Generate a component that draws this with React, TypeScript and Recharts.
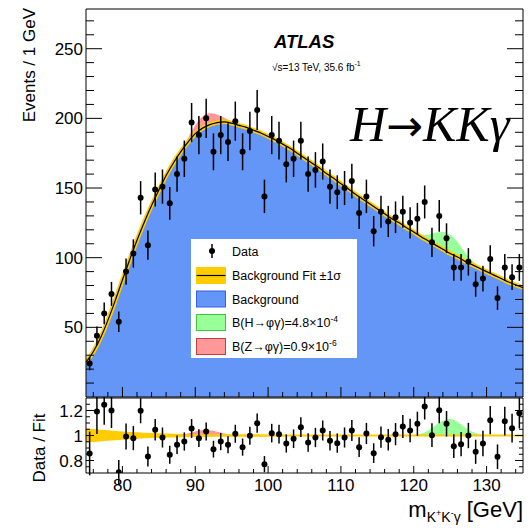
import { ComposedChart, Area, Line, Scatter, ErrorBar, XAxis, YAxis } from "recharts";

const FONT = "'Liberation Sans', Arial, Helvetica, sans-serif";

// 1 GeV bins of m(K+K-γ)
const massBins = [
  75.5, 76.5, 77.5, 78.5, 79.5, 80.5, 81.5, 82.5, 83.5, 84.5,
  85.5, 86.5, 87.5, 88.5, 89.5, 90.5, 91.5, 92.5, 93.5, 94.5,
  95.5, 96.5, 97.5, 98.5, 99.5, 100.5, 101.5, 102.5, 103.5, 104.5,
  105.5, 106.5, 107.5, 108.5, 109.5, 110.5, 111.5, 112.5, 113.5, 114.5,
  115.5, 116.5, 117.5, 118.5, 119.5, 120.5, 121.5, 122.5, 123.5, 124.5,
  125.5, 126.5, 127.5, 128.5, 129.5, 130.5, 131.5, 132.5, 133.5, 134.5,
];

const events = [
  24, 44, 60, 74, 54, 90, 103, 143, 109, 149,
  151, 139, 160, 171, 197, 188, 200, 176, 188, 183,
  198, 176, 191, 206, 144, 188, 184, 167, 171, 184,
  160, 163, 169, 151, 147, 150, 155, 132, 144, 119,
  133, 126, 129, 133, 125, 128, 140, 111, 130, 114,
  93, 93, 97, 81, 85, 99, 71, 93, 86, 93,
];

const dataOverFit = [
  0.856, 1.192, 1.246, 1.2, 0.707, 0.992, 0.979, 1.198, 0.832, 1.046,
  0.984, 0.846, 0.926, 0.952, 1.056, 0.979, 1.032, 0.891, 0.952, 0.926,
  1.014, 0.907, 0.998, 1.099, 0.771, 1.019, 1.011, 0.936, 0.974, 1.067,
  0.944, 0.984, 1.04, 0.958, 0.939, 0.984, 1.04, 0.907, 1.016, 0.859,
  0.987, 0.966, 1.011, 1.072, 1.04, 1.094, 1.232, 1.003, 1.203, 1.094,
  0.915, 0.931, 1.0, 0.87, 0.936, 1.123, 0.83, 1.115, 1.059, 1.179,
];

// background-only fit, sampled every GeV
const fitMass = [
  75, 76, 77, 78, 79, 80, 81, 82, 83, 84, 85, 86, 87, 88, 89, 90,
  91, 92, 93, 94, 95, 96, 97, 98, 99, 100, 101, 102, 103, 104, 105,
  106, 107, 108, 109, 110, 111, 112, 113, 114, 115, 116, 117, 118, 119, 120,
  121, 122, 123, 124, 125, 126, 127, 128, 129, 130, 131, 132, 133, 134, 135,
];
const fitEvents = [
  25, 32.5, 42.5, 55, 69, 84, 98.5, 112.5, 125.5, 137.5, 148.5, 159, 168, 176, 183, 189,
  193, 195.5, 197, 197.5, 196.5, 195, 193.5, 191.5, 189.5, 187, 184.5, 181.5, 178.5, 175, 171.5,
  168, 164.5, 160.5, 157, 153, 149.5, 145.5, 142, 138.5, 135, 131.5, 128, 125, 121.5, 118.5,
  115, 112, 109, 106, 103, 100.5, 97.5, 95, 92.5, 90, 87.5, 85, 82.5, 80.5, 78.5,
];

// relative ±1σ of the fit
const bandMass = [75, 76, 77, 78, 79, 80, 82, 84, 86, 88, 90, 95, 100, 110, 120, 130, 135];
const bandRelErr = [0.057, 0.052, 0.047, 0.042, 0.037, 0.033, 0.026, 0.02, 0.016, 0.013, 0.011, 0.01, 0.009, 0.008, 0.008, 0.008, 0.009];

// signal shapes on top of the background (events)
const zMass = [87, 88, 89, 90, 91, 92, 93, 94, 95, 96, 97];
const zSignal = [0, 0.8, 2.8, 6, 8.4, 8.2, 5.8, 3, 1.2, 0.3, 0];
const hMass = [119, 120, 121, 122, 123, 124, 125, 126, 127, 128, 129, 130, 131];
const hSignal = [0, 0.4, 1.5, 4.5, 9, 12.5, 13.5, 11, 6.5, 3, 1, 0.3, 0];

const xTicks = [76, 78, 80, 82, 84, 86, 88, 90, 92, 94, 96, 98, 100, 102, 104, 106, 108, 110, 112, 114, 116, 118, 120, 122, 124, 126, 128, 130, 132, 134];
const xMajors = [80, 90, 100, 110, 120, 130];
const yTicks = [10, 20, 30, 40, 50, 60, 70, 80, 90, 100, 110, 120, 130, 140, 150, 160, 170, 180, 190, 200, 210, 220, 230, 240, 250, 260, 270];
const yMajors = [50, 100, 150, 200, 250];
const rTicks = [0.75, 0.8, 0.85, 0.9, 0.95, 1, 1.05, 1.1, 1.15, 1.2, 1.25];
const rMajors = [0.8, 1, 1.2];

const BLUE = "#6496f7";
const YELLOW = "#ffcc00";
const GREEN = "#99ff99";
const RED = "#ff9999";

const fitAt = (m: number) => fitEvents[fitMass.indexOf(m)];

const pointRows = massBins.map((m, i) => ({ m, n: events[i], err: Math.sqrt(events[i]) }));
const ratioRows = massBins.map((m, i) => ({ m, r: dataOverFit[i], err: dataOverFit[i] / Math.sqrt(events[i]) }));
const fitRows = fitMass.map((m, i) => ({ m, bkg: fitEvents[i] }));
const bandRows = bandMass.map((m, i) => ({ m, band: [1 - bandRelErr[i], 1 + bandRelErr[i]] }));
const zRows = zMass.map((m, i) => ({ m, top: fitAt(m) + zSignal[i], rel: 1 + zSignal[i] / fitAt(m) }));
const hRows = hMass.map((m, i) => ({ m, top: fitAt(m) + hSignal[i], rel: 1 + hSignal[i] / fitAt(m) }));

type Side = "left" | "right" | "top" | "bottom";

// ROOT-style ticks pointing into the frame
function tickMarks(side: Side, majors: number[], majorLen: number, minorLen: number, label?: (v: number) => string) {
  return (props: any) => {
    const { x, y, payload } = props;
    const v = payload.value;
    const major = majors.some((mv) => Math.abs(mv - v) < 1e-6);
    const len = major ? majorLen : minorLen;
    let l = { x1: x, y1: y, x2: x, y2: y };
    if (side === "left") l = { x1: x, y1: y, x2: x + len, y2: y };
    if (side === "right") l = { x1: x, y1: y, x2: x - len, y2: y };
    if (side === "top") l = { x1: x, y1: y, x2: x, y2: y + len };
    if (side === "bottom") l = { x1: x, y1: y, x2: x, y2: y - len };
    return (
      <g>
        <line {...l} stroke="#000" strokeWidth={1} />
        {major && label && side === "left" && (
          <text x={x - 3} y={y + 6} textAnchor="end" fontSize={17} fontFamily={FONT} fill="#000">
            {label(v)}
          </text>
        )}
        {major && label && side === "bottom" && (
          <text x={x} y={y + 18} textAnchor="middle" fontSize={17} fontFamily={FONT} fill="#000">
            {label(v)}
          </text>
        )}
      </g>
    );
  };
}

const dot = (p: any) => <circle cx={p.cx} cy={p.cy} r={3} fill="#000" />;

function MainPanel() {
  return (
    <ComposedChart width={529} height={400} margin={{ top: 0, right: 0, bottom: 0, left: 0 }}>
      <XAxis dataKey="m" type="number" domain={[75, 135]} allowDataOverflow ticks={xTicks} interval={0}
        height={3} tickSize={0} tickMargin={0} tickLine={false} axisLine={{ stroke: "#000" }}
        tick={tickMarks("bottom", xMajors, 10, 5)} />
      <XAxis xAxisId="top" orientation="top" type="number" domain={[75, 135]} allowDataOverflow ticks={xTicks} interval={0}
        height={9} tickSize={0} tickMargin={0} tickLine={false} axisLine={{ stroke: "#000" }}
        tick={tickMarks("top", xMajors, 10, 5)} />
      <YAxis type="number" domain={[0, 278.5]} allowDataOverflow ticks={yTicks} interval={0}
        width={86} tickSize={0} tickMargin={0} tickLine={false} axisLine={{ stroke: "#000" }}
        tick={tickMarks("left", yMajors, 16, 8, (v) => String(v))} />
      <YAxis yAxisId="r" orientation="right" type="number" domain={[0, 278.5]} allowDataOverflow ticks={yTicks} interval={0}
        width={6} tickSize={0} tickMargin={0} tickLine={false} axisLine={{ stroke: "#000" }}
        tick={tickMarks("right", yMajors, 16, 8)} />

      <Area data={hRows} dataKey="top" type="monotone" fill={GREEN} fillOpacity={1} stroke="none" isAnimationActive={false} />
      <Area data={zRows} dataKey="top" type="monotone" fill={RED} fillOpacity={1} stroke="none" isAnimationActive={false} />
      <Area data={fitRows} dataKey="bkg" type="monotone" fill={BLUE} fillOpacity={1} stroke="none" isAnimationActive={false} />
      <Line data={fitRows} dataKey="bkg" type="monotone" stroke={YELLOW} strokeWidth={4.5} dot={false} isAnimationActive={false} />
      <Line data={fitRows} dataKey="bkg" type="monotone" stroke="#000" strokeWidth={1.2} dot={false} isAnimationActive={false} />

      <Scatter data={pointRows} dataKey="n" shape={dot} isAnimationActive={false}>
        <ErrorBar dataKey="err" direction="y" width={0} stroke="#000" strokeWidth={1.5} />
      </Scatter>
    </ComposedChart>
  );
}

function RatioPanel() {
  return (
    <ComposedChart width={529} height={133} margin={{ top: 0, right: 0, bottom: 0, left: 0 }}>
      <XAxis dataKey="m" type="number" domain={[75, 135]} allowDataOverflow ticks={xTicks} interval={0}
        height={57} tickSize={0} tickMargin={0} tickLine={false} axisLine={{ stroke: "#000" }}
        tick={tickMarks("bottom", xMajors, 7, 4, (v) => String(v))} />
      <XAxis xAxisId="top" orientation="top" type="number" domain={[75, 135]} allowDataOverflow ticks={xTicks} interval={0}
        height={1} tickSize={0} tickMargin={0} tickLine={false} axisLine={{ stroke: "#000" }}
        tick={tickMarks("top", xMajors, 7, 4)} />
      <YAxis type="number" domain={[0.7, 1.3]} allowDataOverflow ticks={rTicks} interval={0}
        width={86} tickSize={0} tickMargin={0} tickLine={false} axisLine={{ stroke: "#000" }}
        tick={tickMarks("left", rMajors, 8, 4, (v) => String(v))} />
      <YAxis yAxisId="r" orientation="right" type="number" domain={[0.7, 1.3]} allowDataOverflow ticks={rTicks} interval={0}
        width={6} tickSize={0} tickMargin={0} tickLine={false} axisLine={{ stroke: "#000" }}
        tick={tickMarks("right", rMajors, 8, 4)} />

      <Area data={hRows} dataKey="rel" type="monotone" baseValue={1} fill={GREEN} fillOpacity={1} stroke="none" isAnimationActive={false} />
      <Area data={zRows} dataKey="rel" type="monotone" baseValue={1} fill={RED} fillOpacity={1} stroke="none" isAnimationActive={false} />
      <Area data={bandRows} dataKey="band" type="monotone" fill={YELLOW} fillOpacity={1} stroke="none" isAnimationActive={false} />

      <Scatter data={ratioRows} dataKey="r" shape={dot} isAnimationActive={false}>
        <ErrorBar dataKey="err" direction="y" width={0} stroke="#000" strokeWidth={1.5} />
      </Scatter>
    </ComposedChart>
  );
}

function Labels() {
  const legendRows = [
    { y: 275.5, fill: YELLOW, stroke: YELLOW, text: "Background Fit \u00b11\u03c3", line: true },
    { y: 299, fill: BLUE, stroke: "#3a5fe0", text: "Background" },
    { y: 322.5, fill: GREEN, stroke: "#3fc43f", text: "B(H\u2192\u03c6\u03b3)=4.8\u00d710", sup: "-4" },
    { y: 346.5, fill: RED, stroke: "#c83c3c", text: "B(Z\u2192\u03c6\u03b3)=0.9\u00d710", sup: "-6" },
  ];
  return (
    <svg width={529} height={530} style={{ position: "absolute", left: 0, top: 0, pointerEvents: "none" }}>
      <text transform="translate(35, 8) rotate(-90)" textAnchor="end" fontSize={17} fontFamily={FONT}>Events / 1 GeV</text>
      <text transform="translate(45, 448) rotate(-90)" textAnchor="middle" fontSize={17} fontFamily={FONT}>Data / Fit</text>
      <text x={523} y={517} textAnchor="end" fontFamily={FONT} fontSize={22}>
        m<tspan fontSize={14} dy={5}>K</tspan>
        <tspan fontSize={9} dy={-6}>+</tspan>
        <tspan fontSize={14} dy={6}>K</tspan>
        <tspan fontSize={9} dy={-6}>-</tspan>
        <tspan fontSize={14} dy={6}>γ</tspan>
        <tspan dy={-5}> [GeV]</tspan>
      </text>

      <text x={274} y={48} fontFamily={FONT} fontWeight="bold" fontStyle="italic" fontSize={18.5}>ATLAS</text>
      <text x={272} y={71} fontFamily={FONT} fontSize={10}>
        √s=13 TeV, 35.6 fb<tspan fontSize={7} dy={-5}>-1</tspan>
      </text>
      <text x={350} y={141} fontFamily="'Liberation Serif', serif" fontStyle="italic" fontSize={50}>
        H<tspan fontFamily="'DejaVu Sans', sans-serif" fontStyle="normal" fontSize={44}>→</tspan>KKγ
      </text>

      <rect x={191} y={239} width={166} height={119} fill="#fff" />
      <line x1={212} x2={212} y1={244} y2={258} stroke="#000" strokeWidth={1.5} />
      <circle cx={212} cy={251} r={3} fill="#000" />
      <text x={232} y={255.5} fontFamily={FONT} fontSize={12.5}>Data</text>
      {legendRows.map((r) => (
        <g key={r.text}>
          <rect x={196.5} y={r.y - 8} width={29} height={16} fill={r.fill} stroke={r.stroke} strokeWidth={1} />
          {r.line && <line x1={196.5} x2={225.5} y1={r.y} y2={r.y} stroke="#000" strokeWidth={1.2} />}
          <text x={232} y={r.y + 4.5} fontFamily={FONT} fontSize={12.5}>
            {r.text}
            {r.sup && <tspan fontSize={8.5} dy={-5}>{r.sup}</tspan>}
          </text>
        </g>
      ))}
    </svg>
  );
}

export default function App() {
  return (
    <div style={{ position: "absolute", left: 0, top: 0, width: 529, height: 530, background: "#fff", fontFamily: FONT }}>
      <div style={{ position: "absolute", left: 0, top: 0 }}>
        <MainPanel />
      </div>
      <div style={{ position: "absolute", left: 0, top: 397 }}>
        <RatioPanel />
      </div>
      <Labels />
    </div>
  );
}
